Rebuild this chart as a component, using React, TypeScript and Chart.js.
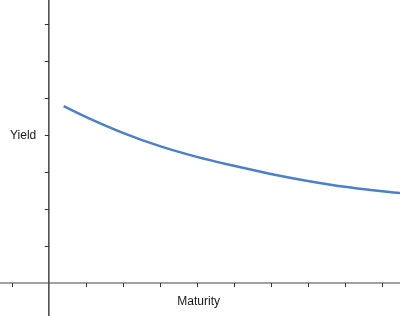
import React, { useEffect, useRef } from "react";
import { Chart, registerables } from "chart.js";

Chart.register(...registerables);

const maturity = [0.4, 1, 2, 3, 4, 5, 6, 7, 8, 9, 9.5];
const yieldValues = [4.78, 4.49, 4.06, 3.7, 3.41, 3.17, 2.95, 2.76, 2.6, 2.48, 2.43];
const xTicks = [-1, 1, 2, 3, 4, 5, 6, 7, 8, 9];
const yTicks = [1, 2, 3, 4, 5, 6, 7];
const xTitle = "Maturity";
const yTitle = "Yield";

const axesPlugin = {
  id: "axesPlugin",
  beforeDatasetsDraw(chart: any) {
    const { ctx, scales } = chart;
    const xs = scales.x;
    const ys = scales.y;
    const x0 = xs.getPixelForValue(0);
    const y0 = ys.getPixelForValue(0);
    ctx.save();
    // x axis
    ctx.strokeStyle = "#a0a0a0";
    ctx.lineWidth = 2;
    ctx.beginPath();
    ctx.moveTo(0, y0);
    ctx.lineTo(chart.width, y0);
    ctx.stroke();
    // y axis
    ctx.strokeStyle = "#444";
    ctx.lineWidth = 1.5;
    ctx.beginPath();
    ctx.moveTo(x0, 0);
    ctx.lineTo(x0, chart.height);
    ctx.stroke();
    // ticks
    ctx.strokeStyle = "#333";
    ctx.lineWidth = 1;
    xTicks.forEach((t) => {
      const px = Math.round(xs.getPixelForValue(t)) + 0.5;
      ctx.beginPath();
      ctx.moveTo(px, y0);
      ctx.lineTo(px, y0 + 4);
      ctx.stroke();
    });
    yTicks.forEach((t) => {
      const py = Math.round(ys.getPixelForValue(t)) + 0.5;
      ctx.beginPath();
      ctx.moveTo(x0 - 4, py);
      ctx.lineTo(x0, py);
      ctx.stroke();
    });
    // titles
    ctx.fillStyle = "#1a1a1a";
    ctx.font = '12px "Liberation Sans", Arial, sans-serif';
    ctx.textBaseline = "middle";
    ctx.textAlign = "center";
    ctx.fillText(xTitle, xs.getPixelForValue(4.05), y0 + 19);
    ctx.textAlign = "left";
    ctx.fillText(yTitle, 10, ys.getPixelForValue(3.98));
    ctx.restore();
  },
};

export default function App() {
  const ref = useRef<HTMLCanvasElement>(null);
  useEffect(() => {
    const chart = new Chart(ref.current!, {
      type: "line",
      data: {
        datasets: [
          {
            data: maturity.map((m, i) => ({ x: m, y: yieldValues[i] })),
            borderColor: "#4a80cc",
            borderWidth: 2.5,
            pointRadius: 0,
            tension: 0.4,
            fill: false,
          },
        ],
      },
      options: {
        animation: false,
        responsive: false,
        maintainAspectRatio: false,
        layout: { padding: 0 },
        plugins: { legend: { display: false }, tooltip: { enabled: false } },
        scales: {
          x: { type: "linear", display: false, min: -1.32, max: 9.49 },
          y: { type: "linear", display: false, min: -0.89, max: 7.65 },
        },
      },
      plugins: [axesPlugin],
    });
    return () => chart.destroy();
  }, []);
  return (
    <div style={{ position: "fixed", left: 0, top: 0, width: 400, height: 316, background: "#fff" }}>
      <canvas ref={ref} width={400} height={316} style={{ width: 400, height: 316 }} />
    </div>
  );
}
